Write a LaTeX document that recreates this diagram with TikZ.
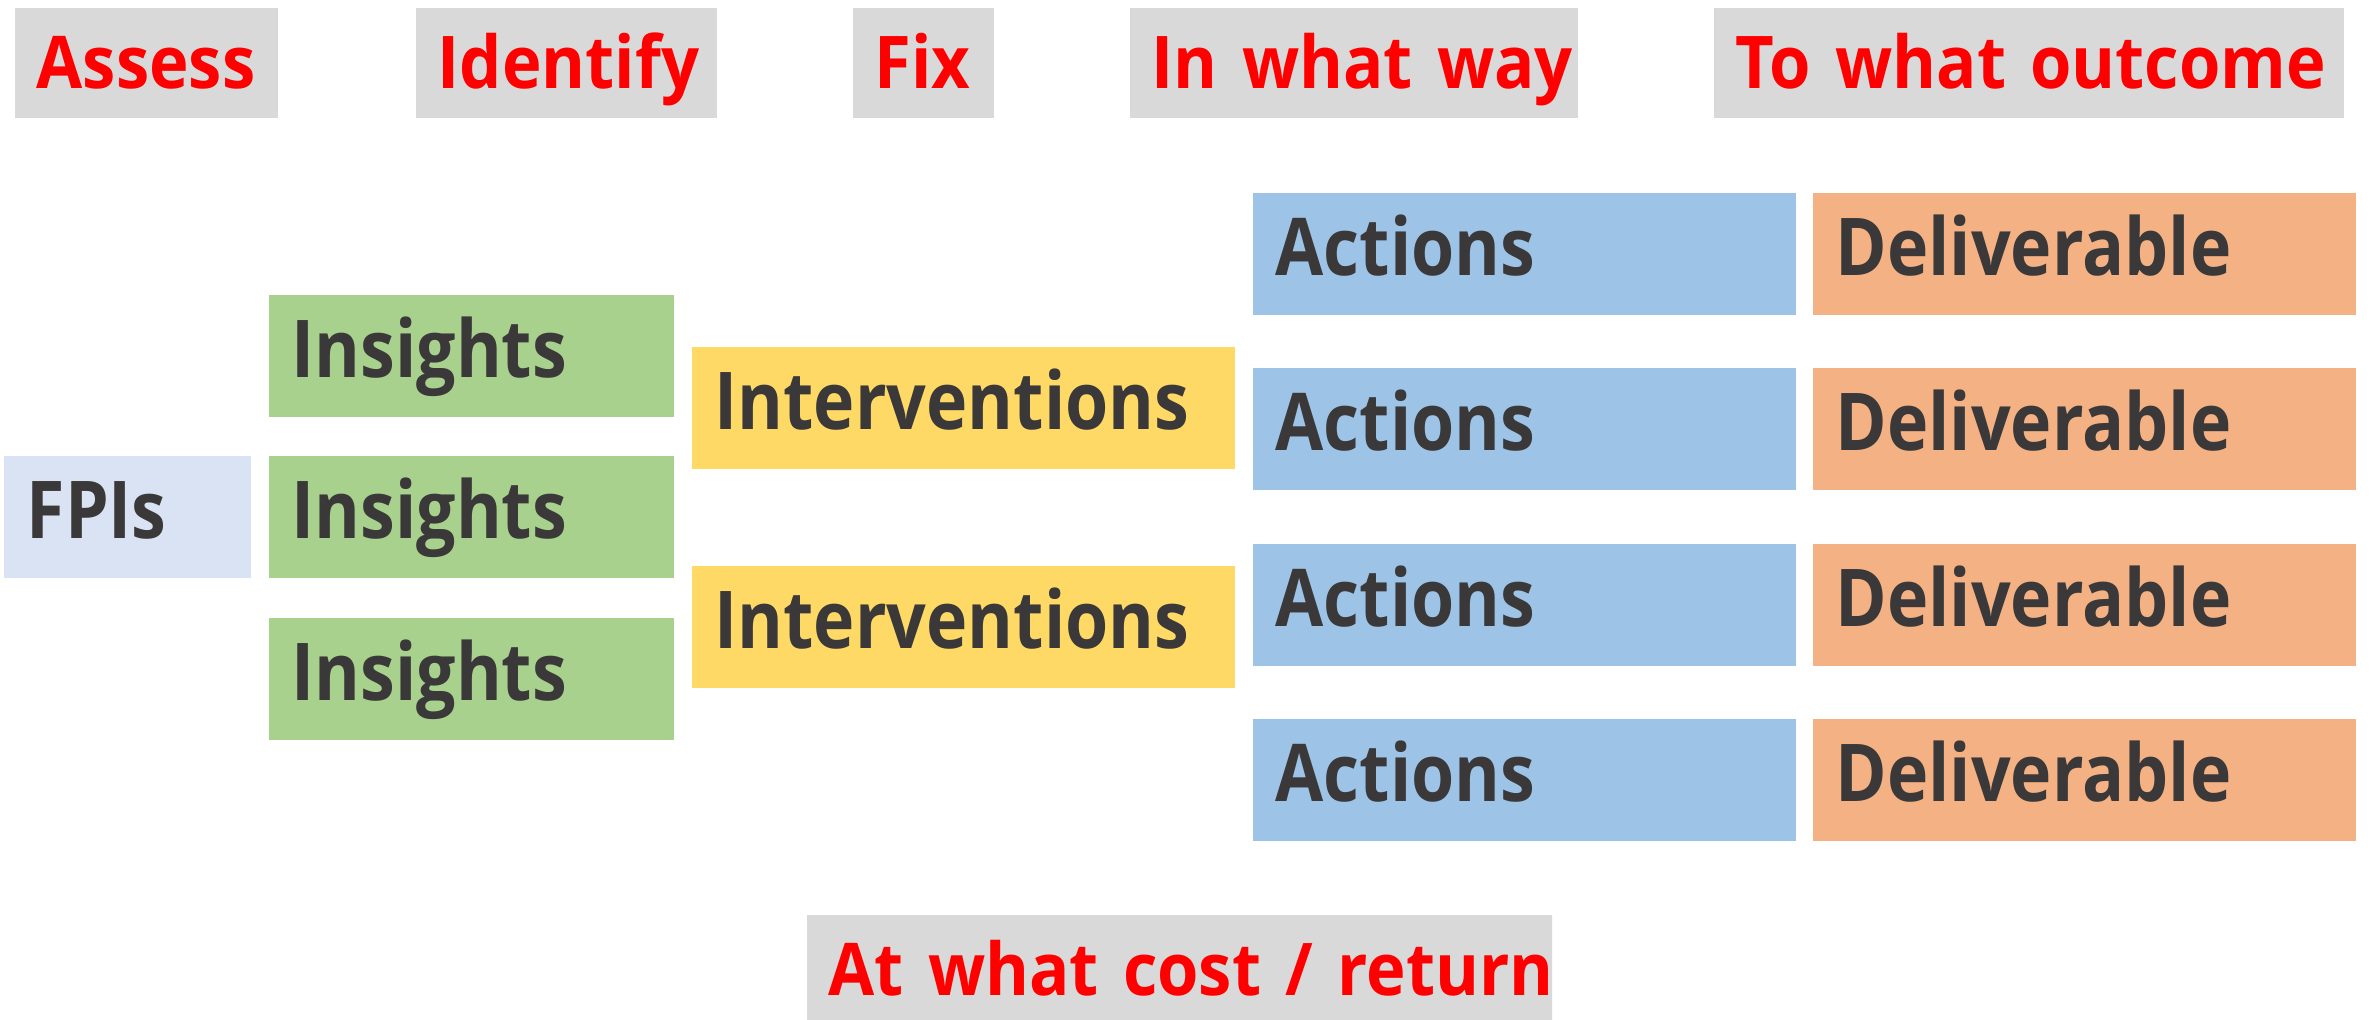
\documentclass[tikz,border=0pt]{standalone}
\usepackage{fontspec}
\newfontfamily\cellfont{Open Sans}[FakeStretch=0.875]
\newfontfamily\headfont{Open Sans}[FakeStretch=0.92]
\definecolor{headgrey}{HTML}{D9D9D9}
\definecolor{headred}{HTML}{FF0000}
\definecolor{textgrey}{HTML}{3A3838}
\definecolor{fpiblue}{HTML}{DAE3F3}
\definecolor{insgreen}{HTML}{A9D18E}
\definecolor{intyellow}{HTML}{FFD966}
\definecolor{actblue}{HTML}{9DC3E6}
\definecolor{delorange}{HTML}{F4B183}

\begin{document}
\begin{tikzpicture}[x=1cm,y=-1cm]
				\tikzset{cell/.style = {shape=rectangle, anchor=north west,
						inner xsep=0.23cm, inner ysep=0pt, minimum height=1.22cm,
						text height=0.62cm, text depth=0.18cm, align=left,
						text=textgrey,
						font={\cellfont\bfseries\fontsize{22.7}{27}\selectfont},
						execute at begin node=\hbox\bgroup,
						execute at end node=\egroup}}
				\tikzset{headcell/.style = {cell, fill=headgrey, text=headred,
						inner xsep=0.22cm, minimum height=1.10cm,
						text height=0.70cm, text depth=0.18cm,
						font={\headfont\bfseries\fontsize{20.7}{25}\selectfont}}}
				\tikzset{wide/.style = {cell, text width=4.97cm}}
				
				\useasboundingbox (0,0) rectangle (23.77,10.20);
				
				% questions
				\node[headcell, text width=2.19cm] (assess) at (0.14,0.07) {Assess};
				\node[headcell, text width=2.57cm] (identify) at (4.15,0.07) {Identify};
				\node[headcell, text width=0.97cm] (fix) at (8.52,0.07) {Fix};
				\node[headcell, text width=4.04cm] (way) at (11.29,0.07) {In what way};
				\node[headcell, text width=5.86cm] (outcome) at (17.13,0.07) {To what outcome};
				\begin{scope}
					\clip (8.06,9.14) rectangle (15.52,10.30);
					\node[headcell, text width=7.02cm] (cost) at (8.06,9.14) {At what cost / return};
				\end{scope}
				
				% cells
				\node[cell, fill=fpiblue, text width=2.01cm] (fpi) at (0.03,4.55) {FPIs};
				
				\node[cell, fill=insgreen, text width=3.59cm] (ins1) at (2.68,2.94) {Insights};
				\node[cell, fill=insgreen, text width=3.59cm] (ins2) at (2.68,4.55) {Insights};
				\node[cell, fill=insgreen, text width=3.59cm] (ins3) at (2.68,6.17) {Insights};
				
				\node[wide, fill=intyellow] (int1) at (6.91,3.46) {Interventions};
				\node[wide, fill=intyellow] (int2) at (6.91,5.65) {Interventions};
				
				\node[wide, fill=actblue] (act1) at (12.52,1.92) {Actions};
				\node[wide, fill=actblue] (act2) at (12.52,3.67) {Actions};
				\node[wide, fill=actblue] (act3) at (12.52,5.43) {Actions};
				\node[wide, fill=actblue] (act4) at (12.52,7.18) {Actions};
				
				\node[wide, fill=delorange] (del1) at (18.12,1.92) {Deliverable};
				\node[wide, fill=delorange] (del2) at (18.12,3.67) {Deliverable};
				\node[wide, fill=delorange] (del3) at (18.12,5.43) {Deliverable};
				\node[wide, fill=delorange] (del4) at (18.12,7.18) {Deliverable};
				
				\end{tikzpicture}
\end{document}
